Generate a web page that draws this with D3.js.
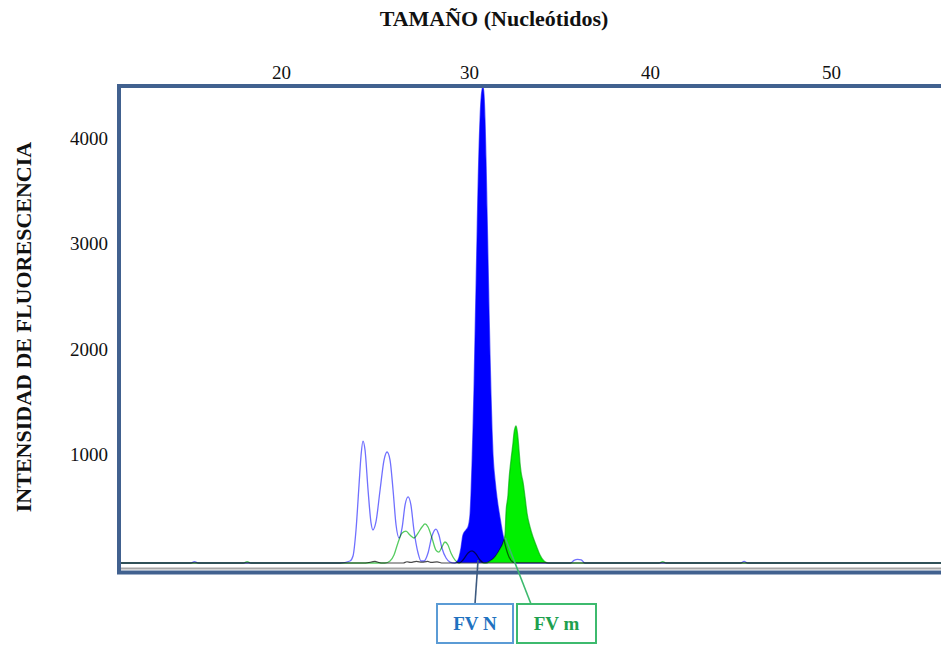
<!DOCTYPE html>
<html><head><meta charset="utf-8">
<script src="https://cdn.jsdelivr.net/npm/d3@7"></script>
<style>
body{margin:0;background:#fff;}
svg{display:block;font-family:"Liberation Serif","Times New Roman",serif;}
</style>
</head><body>
<svg id="c" width="941" height="646"></svg>
<script>
// ---- data (size in nucleotides, fluorescence intensity) ----
const xTicks = [20, 30, 40, 50];
const yTicks = [1000, 2000, 3000, 4000];

const blueSize = [11.4,15.2,15.4,15.6,23.14,23.67,23.83,23.99,24.15,24.26,24.36,24.47,24.63,24.79,24.89,25.05,25.27,25.48,25.64,25.80,25.96,26.12,26.28,26.44,26.60,26.76,26.91,27.07,27.29,27.45,27.61,27.82,28.03,28.24,28.40,28.56,28.78,28.99,29.255,
  29.415,29.574,29.681,29.840,29.947,30.055,30.110,30.166,30.221,30.276,30.331,30.387,30.442,30.497,30.552,30.608,30.663,30.718,30.773,
  30.829,30.884,30.939,30.994,31.050,31.105,31.160,31.215,31.271,31.326,31.436,31.547,31.713,31.878,32.044,32.210,32.431,32.652,
  35.6,35.8,36.0,36.2,36.4,45.0,45.2,45.4,56.5];
const blueValue = [0,0,12,0,0,19,66,313,739,1024,1156,1071,692,379,313,389,692,976,1052,976,692,360,237,332,550,626,550,313,95,19,19,95,256,322,265,142,47,9,0,
  28,142,265,313,341,455,645,929,1261,1640,2114,2588,3062,3536,3915,4199,4389,4483,4512,
  4436,4199,3820,3346,2872,2398,1972,1592,1261,1024,787,616,427,265,142,57,9,0,
  0,25,35,30,0,0,15,0,0];

const greenSize = [11.4,18.0,18.2,18.4,25.53,25.80,26.01,26.22,26.44,26.65,26.86,27.07,27.29,27.50,27.66,27.82,28.03,28.24,28.40,28.56,28.72,28.88,29.04,29.26,29.47,29.68,29.95,30.166,30.387,30.608,30.829,
  30.939,31.160,31.381,31.547,31.713,31.878,31.989,32.044,32.155,32.210,32.320,32.431,32.486,32.541,32.597,32.652,32.707,32.762,32.818,32.873,32.983,33.094,33.204,33.370,33.536,33.702,33.923,34.144,34.365,
  40.5,40.7,40.9,56.5];
const greenValue = [0,0,12,0,0,19,76,190,284,303,265,237,284,341,370,341,237,123,104,152,199,171,95,28,0,28,95,114,85,28,0,
  0,19,47,85,133,190,265,474,645,787,976,1137,1232,1280,1299,1261,1185,1071,948,863,768,626,474,341,246,171,76,19,0,
  0,12,0,0];

const graySize = [11.4,24.5,25.0,25.2,25.4,26.5,26.7,26.9,27.2,27.5,27.8,28.0,28.3,28.6,56.5];
const grayValue = [0,0,15,5,0,0,12,5,15,8,15,5,10,0,0];

// called peaks (filled) and their labels
const peakLabels = ["FV N", "FV m"];
const peakRanges = [[29.255, 32.652], [30.939, 34.365]];
const peakAnchor = [30.5, 32.0];

// ---- drawing ----
const svg = d3.select("#c");
const x = d3.scaleLinear().domain(xTicks).range([281, 469, 650, 831]);
const y = d3.scaleLinear().domain([0, 4000]).range([563, 141]);

const zip = (s, v) => s.map((d, i) => ({s: d, v: v[i]}));
const blue = zip(blueSize, blueValue);
const green = zip(greenSize, greenValue);
const gray = zip(graySize, grayValue);

svg.append("defs").append("clipPath").attr("id", "clip")
  .append("rect").attr("x", 121).attr("y", 86).attr("width", 830).attr("height", 484);

const plot = svg.append("g").attr("clip-path", "url(#clip)");

const line = d3.line().x(d => x(d.s)).y(d => y(d.v)).curve(d3.curveMonotoneX);
const area = d3.area().x(d => x(d.s)).y0(y(0)).y1(d => y(d.v)).curve(d3.curveMonotoneX);

// filled called peaks
plot.append("path").datum(blue.filter(d => d.s >= peakRanges[0][0] && d.s <= peakRanges[0][1]))
  .attr("d", area).attr("fill", "#0000ff");
plot.append("path").datum(green.filter(d => d.s >= peakRanges[1][0] && d.s <= peakRanges[1][1]))
  .attr("d", area).attr("fill", "#00f000");

// traces
plot.append("path").datum(gray).attr("d", line).attr("fill", "none")
  .attr("stroke", "#4a4a4a").attr("stroke-width", 1.2);
plot.append("path").datum(blue).attr("d", line).attr("fill", "none")
  .attr("stroke", "#7070ff").attr("stroke-width", 1.3).style("mix-blend-mode", "multiply");
plot.append("path").datum(green).attr("d", line).attr("fill", "none")
  .attr("stroke", "#55cc60").attr("stroke-width", 1.3).style("mix-blend-mode", "multiply");

// light grey axis line under the baseline
svg.append("line").attr("x1", 121).attr("x2", 941).attr("y1", y(0) + 5.5).attr("y2", y(0) + 5.5)
  .attr("stroke", "#a6a6a6").attr("stroke-width", 2);

// frame
svg.append("rect").attr("x", 119).attr("y", 86).attr("width", 900).attr("height", 486.5)
  .attr("fill", "none").attr("stroke", "#41618f").attr("stroke-width", 4);

// axes
const xAxis = svg.append("g").attr("transform", "translate(0,86)")
  .call(d3.axisTop(x).tickValues(xTicks).tickSize(0).tickPadding(7).tickFormat(d3.format("d")));
xAxis.select(".domain").remove();
xAxis.selectAll("text").attr("font-size", 19).attr("font-family", "Liberation Serif, Times New Roman, serif").attr("fill", "#111");

const yAxis = svg.append("g").attr("transform", "translate(121,0)")
  .call(d3.axisLeft(y).tickValues(yTicks).tickSize(0).tickPadding(13).tickFormat(d3.format("d")));
yAxis.select(".domain").remove();
yAxis.selectAll("text").attr("font-size", 19).attr("dy", "0.16em").attr("font-family", "Liberation Serif, Times New Roman, serif").attr("fill", "#111");

// titles
svg.append("text").attr("x", 494).attr("y", 26).attr("text-anchor", "middle")
  .attr("font-size", 22).attr("font-weight", "bold").attr("fill", "#111").text("TAMAÑO (Nucleótidos)");
svg.append("text").attr("transform", "translate(31,327) rotate(-90)").attr("text-anchor", "middle")
  .attr("font-size", 22).attr("font-weight", "bold").attr("fill", "#111").text("INTENSIDAD DE FLUORESCENCIA");

// peak annotations
const boxes = [
  {x: 437, w: 76, stroke: "#5b9bd5", text: "#1f72c0", lead: "#3d5a80", ly: 0},
  {x: 517, w: 79, stroke: "#3dba6e", text: "#1ea04e", lead: "#3dba6e", ly: 210}
];
boxes.forEach((b, i) => {
  const ax = x(peakAnchor[i]);
  svg.append("line").attr("x1", ax).attr("y1", y(b.ly) - 3)
    .attr("x2", b.x + (i === 0 ? 38 : 14)).attr("y2", 604)
    .attr("stroke", b.lead).attr("stroke-width", 1.6);
  svg.append("rect").attr("x", b.x).attr("y", 604).attr("width", b.w).attr("height", 39)
    .attr("fill", "#fff").attr("stroke", b.stroke).attr("stroke-width", 2);
  svg.append("text").attr("x", b.x + b.w / 2).attr("y", 630).attr("text-anchor", "middle")
    .attr("font-size", 19).attr("font-weight", "bold").attr("fill", b.text).text(peakLabels[i]);
});
</script>
</body></html>
